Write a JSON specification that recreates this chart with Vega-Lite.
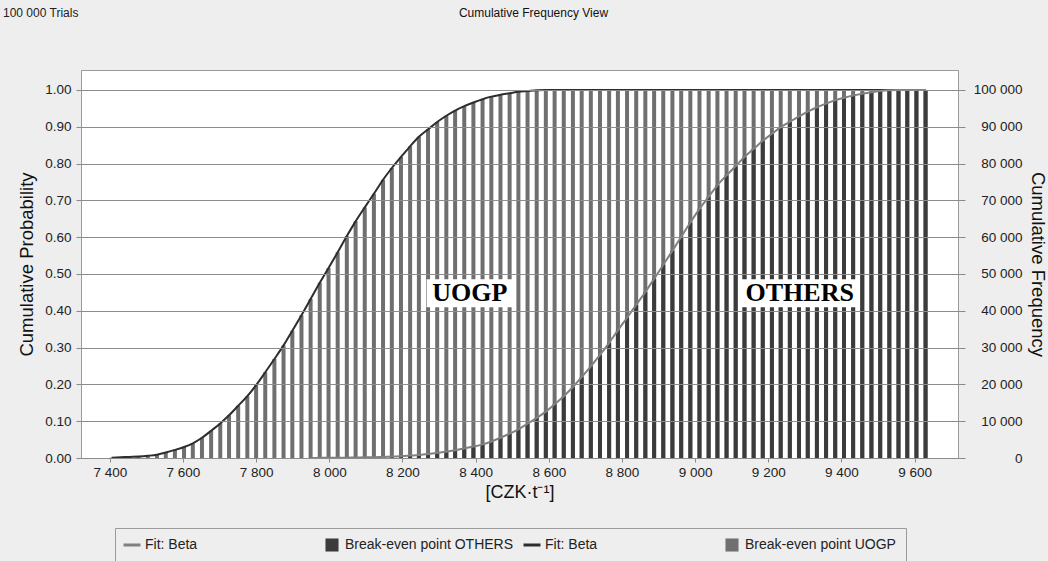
{
  "$schema": "https://vega.github.io/schema/vega-lite/v6.json",
  "width": 877,
  "height": 388,
  "autosize": {"type": "none"},
  "padding": {"left": 81, "top": 70, "right": 90, "bottom": 103},
  "background": "#eeeeee",
  "config": {
    "font": "Liberation Sans",
    "view": {"fill": "white", "stroke": "#9a9a9a", "strokeWidth": 1},
    "axis": {"labelFont": "Liberation Sans", "titleFont": "Liberation Sans", "labelColor": "#222222", "titleColor": "#111111", "labelFontSize": 13.5, "titleFontWeight": "normal", "tickColor": "#8a8a8a", "domain": false, "labelOverlap": false}
  },
  "title": {"text": "100 000 Trials", "anchor": "start", "frame": "bounds", "fontSize": 12, "fontWeight": "normal", "color": "#222222", "offset": 0, "dy": 14, "dx": -14},
  "datasets": {
    "uogp": [
      {"x": 7405, "p": 0.001}, {"x": 7430, "p": 0.002}, {"x": 7454, "p": 0.003}, {"x": 7479, "p": 0.004},
      {"x": 7504, "p": 0.006}, {"x": 7529, "p": 0.009}, {"x": 7553, "p": 0.015}, {"x": 7578, "p": 0.022},
      {"x": 7603, "p": 0.030}, {"x": 7627, "p": 0.040}, {"x": 7652, "p": 0.055}, {"x": 7677, "p": 0.074},
      {"x": 7702, "p": 0.094}, {"x": 7726, "p": 0.116}, {"x": 7751, "p": 0.142}, {"x": 7776, "p": 0.168},
      {"x": 7800, "p": 0.198}, {"x": 7825, "p": 0.233}, {"x": 7850, "p": 0.269}, {"x": 7875, "p": 0.306},
      {"x": 7899, "p": 0.346}, {"x": 7924, "p": 0.388}, {"x": 7949, "p": 0.432}, {"x": 7974, "p": 0.476},
      {"x": 7998, "p": 0.516}, {"x": 8023, "p": 0.559}, {"x": 8048, "p": 0.603}, {"x": 8072, "p": 0.643},
      {"x": 8097, "p": 0.681}, {"x": 8122, "p": 0.718}, {"x": 8147, "p": 0.756}, {"x": 8171, "p": 0.788},
      {"x": 8196, "p": 0.818}, {"x": 8221, "p": 0.847}, {"x": 8245, "p": 0.873}, {"x": 8270, "p": 0.893},
      {"x": 8295, "p": 0.913}, {"x": 8320, "p": 0.930}, {"x": 8344, "p": 0.944}, {"x": 8369, "p": 0.956},
      {"x": 8394, "p": 0.966}, {"x": 8419, "p": 0.975}, {"x": 8443, "p": 0.982}, {"x": 8468, "p": 0.987},
      {"x": 8493, "p": 0.991}, {"x": 8517, "p": 0.995}, {"x": 8542, "p": 0.997}, {"x": 8567, "p": 0.999},
      {"x": 8592, "p": 1.0}, {"x": 8616, "p": 1.0}, {"x": 8641, "p": 1.0}, {"x": 8666, "p": 1.0},
      {"x": 8690, "p": 1.0}, {"x": 8715, "p": 1.0}, {"x": 8740, "p": 1.0}, {"x": 8765, "p": 1.0},
      {"x": 8789, "p": 1.0}, {"x": 8814, "p": 1.0}, {"x": 8839, "p": 1.0}, {"x": 8864, "p": 1.0},
      {"x": 8888, "p": 1.0}, {"x": 8913, "p": 1.0}, {"x": 8938, "p": 1.0}, {"x": 8962, "p": 1.0},
      {"x": 8987, "p": 1.0}, {"x": 9012, "p": 1.0}, {"x": 9037, "p": 1.0}, {"x": 9061, "p": 1.0},
      {"x": 9086, "p": 1.0}, {"x": 9111, "p": 1.0}, {"x": 9135, "p": 1.0}, {"x": 9160, "p": 1.0},
      {"x": 9185, "p": 1.0}, {"x": 9210, "p": 1.0}, {"x": 9234, "p": 1.0}, {"x": 9259, "p": 1.0},
      {"x": 9284, "p": 1.0}, {"x": 9308, "p": 1.0}, {"x": 9333, "p": 1.0}, {"x": 9358, "p": 1.0},
      {"x": 9383, "p": 1.0}, {"x": 9407, "p": 1.0}, {"x": 9432, "p": 1.0}, {"x": 9457, "p": 1.0},
      {"x": 9482, "p": 1.0}, {"x": 9506, "p": 1.0}, {"x": 9531, "p": 1.0}, {"x": 9556, "p": 1.0},
      {"x": 9580, "p": 1.0}, {"x": 9605, "p": 1.0}, {"x": 9630, "p": 1.0}
    ],
    "others": [
      {"x": 7949, "p": 0.0002}, {"x": 7974, "p": 0.0004}, {"x": 7998, "p": 0.0006}, {"x": 8023, "p": 0.0008},
      {"x": 8048, "p": 0.001}, {"x": 8072, "p": 0.0013}, {"x": 8097, "p": 0.0017}, {"x": 8122, "p": 0.0022},
      {"x": 8147, "p": 0.003}, {"x": 8171, "p": 0.004}, {"x": 8196, "p": 0.005}, {"x": 8221, "p": 0.0065},
      {"x": 8245, "p": 0.008}, {"x": 8270, "p": 0.011}, {"x": 8295, "p": 0.014}, {"x": 8320, "p": 0.017},
      {"x": 8344, "p": 0.021}, {"x": 8369, "p": 0.026}, {"x": 8394, "p": 0.031}, {"x": 8419, "p": 0.037},
      {"x": 8443, "p": 0.045}, {"x": 8468, "p": 0.055}, {"x": 8493, "p": 0.066}, {"x": 8517, "p": 0.078},
      {"x": 8542, "p": 0.093}, {"x": 8567, "p": 0.109}, {"x": 8592, "p": 0.126}, {"x": 8616, "p": 0.146},
      {"x": 8641, "p": 0.168}, {"x": 8666, "p": 0.193}, {"x": 8690, "p": 0.220}, {"x": 8715, "p": 0.249},
      {"x": 8740, "p": 0.280}, {"x": 8765, "p": 0.313}, {"x": 8789, "p": 0.347}, {"x": 8814, "p": 0.381},
      {"x": 8839, "p": 0.416}, {"x": 8864, "p": 0.451}, {"x": 8888, "p": 0.487}, {"x": 8913, "p": 0.525},
      {"x": 8938, "p": 0.563}, {"x": 8962, "p": 0.601}, {"x": 8987, "p": 0.640}, {"x": 9012, "p": 0.677},
      {"x": 9037, "p": 0.710}, {"x": 9061, "p": 0.741}, {"x": 9086, "p": 0.768}, {"x": 9111, "p": 0.793},
      {"x": 9135, "p": 0.818}, {"x": 9160, "p": 0.840}, {"x": 9185, "p": 0.862}, {"x": 9210, "p": 0.881},
      {"x": 9234, "p": 0.899}, {"x": 9259, "p": 0.914}, {"x": 9284, "p": 0.928}, {"x": 9308, "p": 0.941},
      {"x": 9333, "p": 0.953}, {"x": 9358, "p": 0.963}, {"x": 9383, "p": 0.972}, {"x": 9407, "p": 0.979},
      {"x": 9432, "p": 0.985}, {"x": 9457, "p": 0.990}, {"x": 9482, "p": 0.994}, {"x": 9506, "p": 0.997},
      {"x": 9531, "p": 0.999}, {"x": 9556, "p": 1.0}, {"x": 9580, "p": 1.0}, {"x": 9605, "p": 1.0},
      {"x": 9630, "p": 1.0}
    ],
    "labels": [
      {"label": "UOGP", "x": 8384, "p": 0.448},
      {"label": "OTHERS", "x": 9286, "p": 0.448}
    ]
  },
  "layer": [
    {
      "layer": [
        {
          "data": {"name": "uogp"},
          "mark": {"type": "bar", "size": 4},
          "encoding": {
            "x": {
              "field": "x", "type": "quantitative", "title": "[CZK·t⁻¹]",
              "scale": {"domain": [7335, 9705], "nice": false, "zero": false},
              "axis": {"orient": "bottom", "values": [7400, 7600, 7800, 8000, 8200, 8400, 8600, 8800, 9000, 9200, 9400, 9600], "tickCount": 20, "labelExpr": "replace(format(datum.value, ','), ',', ' ')", "tickSize": 4, "labelPadding": 3, "grid": false, "titleFontSize": 18, "titlePadding": 5}
            },
            "y": {
              "field": "p", "type": "quantitative", "title": "Cumulative Probability",
              "scale": {"domain": [0, 1.0543], "nice": false},
              "axis": {"orient": "left", "values": [0, 0.1, 0.2, 0.3, 0.4, 0.5, 0.6, 0.7, 0.8, 0.9, 1.0], "tickCount": 20, "format": ".2f", "tickSize": 5, "labelPadding": 5, "grid": true, "gridColor": "#8c8c8c", "gridWidth": 1, "gridOpacity": 1, "titleFontSize": 18.5, "titleX": -45, "zindex": 1}
            },
            "color": {
              "datum": "barU", "type": "nominal",
              "scale": {"domain": ["fitO", "barO", "fitU", "barU"], "range": ["#808080", "#3b3b3b", "#2d2d2d", "#6f6f6f"]},
              "legend": {
                "orient": "none", "legendX": 34, "legendY": 458, "direction": "horizontal", "columns": 4, "gridAlign": "all", "columnPadding": 3, "title": null,
                "labelExpr": "datum.value === 'barO' ? 'Break-even point OTHERS' : (datum.value === 'barU' ? 'Break-even point UOGP' : 'Fit: Beta')",
                "labelFontSize": 14, "labelLimit": 400, "labelColor": "#222222", "symbolSize": 170, "padding": 10, "strokeColor": "#9a9a9a", "labelOffset": 6,
                "encode": {
                  "symbols": {
                    "update": {
                      "shape": {"signal": "(datum.value === 'fitO' || datum.value === 'fitU') ? 'M-1.3,0H1.3' : 'square'"},
                      "fill": {"signal": "(datum.value === 'fitO' || datum.value === 'fitU') ? 'transparent' : scale('color', datum.value)"},
                      "stroke": {"signal": "scale('color', datum.value)"},
                      "strokeWidth": {"signal": "(datum.value === 'fitO' || datum.value === 'fitU') ? 3 : 0"},
                      "opacity": {"value": 1}
                    }
                  }
                }
              }
            }
          }
        },
        {
          "data": {"name": "others"},
          "mark": {"type": "bar", "size": 4},
          "encoding": {
            "x": {"field": "x", "type": "quantitative"},
            "y": {"field": "p", "type": "quantitative"},
            "color": {"datum": "barO", "type": "nominal"}
          }
        },
        {
          "data": {"name": "uogp"},
          "mark": {"type": "line", "strokeWidth": 2, "interpolate": "monotone"},
          "encoding": {
            "x": {"field": "x", "type": "quantitative"},
            "y": {"field": "p", "type": "quantitative"},
            "color": {"datum": "fitU", "type": "nominal"}
          }
        },
        {
          "data": {"name": "labels"},
          "mark": {"type": "point", "filled": true, "color": "white", "opacity": 1, "size": 3136, "strokeWidth": 0},
          "encoding": {
            "x": {"field": "x", "type": "quantitative"},
            "y": {"field": "p", "type": "quantitative"},
            "shape": {"field": "label", "type": "nominal", "scale": {"domain": ["UOGP", "OTHERS"], "range": ["M-1.54,-0.5H1.54V0.5H-1.54Z", "M-2.11,-0.5H2.11V0.5H-2.11Z"]}, "legend": null}
          }
        },
        {
          "data": {"name": "labels"},
          "mark": {"type": "text", "font": "Liberation Serif", "fontWeight": "bold", "fontSize": 26, "color": "black", "baseline": "middle", "align": "center"},
          "encoding": {
            "x": {"field": "x", "type": "quantitative"},
            "y": {"field": "p", "type": "quantitative"},
            "text": {"field": "label"}
          }
        }
      ]
    },
    {
      "data": {"name": "others"},
      "mark": {"type": "line", "strokeWidth": 2, "interpolate": "monotone"},
      "encoding": {
        "x": {
          "field": "x", "type": "quantitative", "title": "Cumulative Frequency View",
          "axis": {"orient": "top", "labels": false, "ticks": false, "grid": false, "domain": false, "titleFontSize": 12, "titleX": 452, "titleY": -54, "titleBaseline": "alphabetic"}
        },
        "y": {
          "field": "p", "type": "quantitative", "title": "Cumulative Frequency",
          "scale": {"domain": [0, 1.0543], "nice": false},
          "axis": {"orient": "right", "values": [0, 0.1, 0.2, 0.3, 0.4, 0.5, 0.6, 0.7, 0.8, 0.9, 1.0], "tickCount": 20, "labelExpr": "replace(format(datum.value * 100000, ',.0f'), ',', ' ')", "tickSize": 7, "labelAlign": "right", "labelPadding": 57, "grid": false, "titleFontSize": 18.5, "titleX": 69}
        },
        "color": {"datum": "fitO", "type": "nominal"}
      }
    }
  ],
  "resolve": {"scale": {"y": "independent"}, "axis": {"x": "independent"}}
}
